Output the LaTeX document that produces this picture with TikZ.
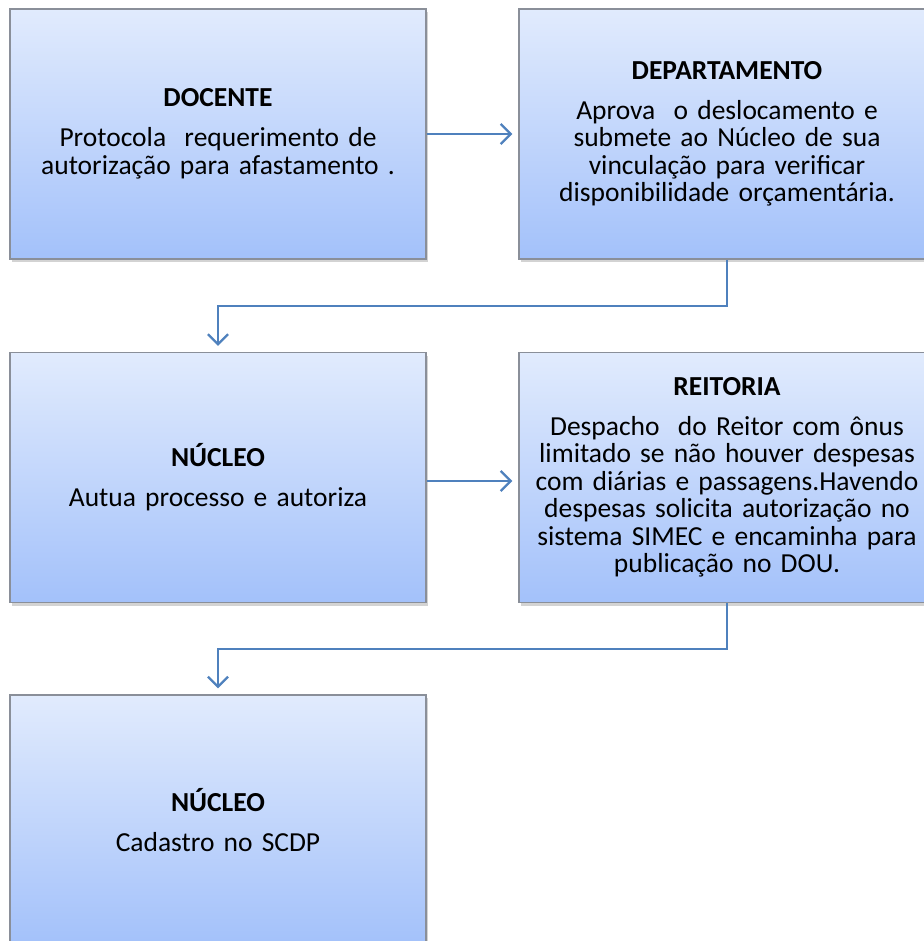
\documentclass[tikz,border=0pt]{standalone}
\usepackage{fontspec}
\setmainfont{Carlito}
\usetikzlibrary{arrows.meta,shadows}
\definecolor{boxtop}{HTML}{E1EBFD}
\definecolor{boxbot}{HTML}{A3C1FA}
\definecolor{boxline}{HTML}{8A8F99}
\definecolor{conncol}{HTML}{4F81BD}
\tikzset{
  stepbox/.style={rectangle, draw=boxline, line width=1.2pt,
    top color=boxtop, bottom color=boxbot,
    minimum width=416pt, minimum height=250pt, inner sep=0pt,
    align=center, text width=405pt,
    font=\fontsize{27.5}{27.5}\selectfont,
    drop shadow={opacity=0.35, shadow xshift=2pt, shadow yshift=-3pt}},
  conn/.style={draw=conncol, line width=2.4pt,
    -{Straight Barb[length=10pt,width=20pt,line width=2.4pt]}, shorten >=6pt}
}
\newcommand{\ttl}[1]{\textbf{#1}\\[12.5pt]}
\begin{document}
\begin{tikzpicture}[x=1pt,y=-1pt]
\useasboundingbox (0,0) rectangle (923,941);
\node[stepbox] (doc) at (218,134) {\ttl{DOCENTE}Protocola\ \ requerimento de\\autorização para afastamento .};
\node[stepbox] (dep) at (727,134) {\ttl{DEPARTAMENTO}Aprova\ \ o deslocamento e\\submete ao Núcleo de sua\\vinculação para verificar\\disponibilidade orçamentária.};
\node[stepbox] (nuc1) at (218,477.5) {\ttl{NÚCLEO}Autua processo e autoriza};
\node[stepbox] (rei) at (727,477.5) {\ttl{REITORIA}Despacho\ \ do Reitor com ônus\\limitado se não houver despesas\\com diárias e passagens.Havendo\\despesas solicita autorização no\\sistema SIMEC e encaminha para\\publicação no DOU.};
\node[stepbox] (nuc2) at (218,820) {\ttl{NÚCLEO}Cadastro no SCDP};
\draw[conn] (doc.east) -- (dep.west);
\draw[conn] (dep.south) -- (dep.south |- 0,306) -| (nuc1.north);
\draw[conn] ([yshift=-3.5pt]nuc1.east) -- ([yshift=-3.5pt]rei.west);
\draw[conn] (rei.south) -- (rei.south |- 0,649) -| (nuc2.north);
\end{tikzpicture}
\end{document}
